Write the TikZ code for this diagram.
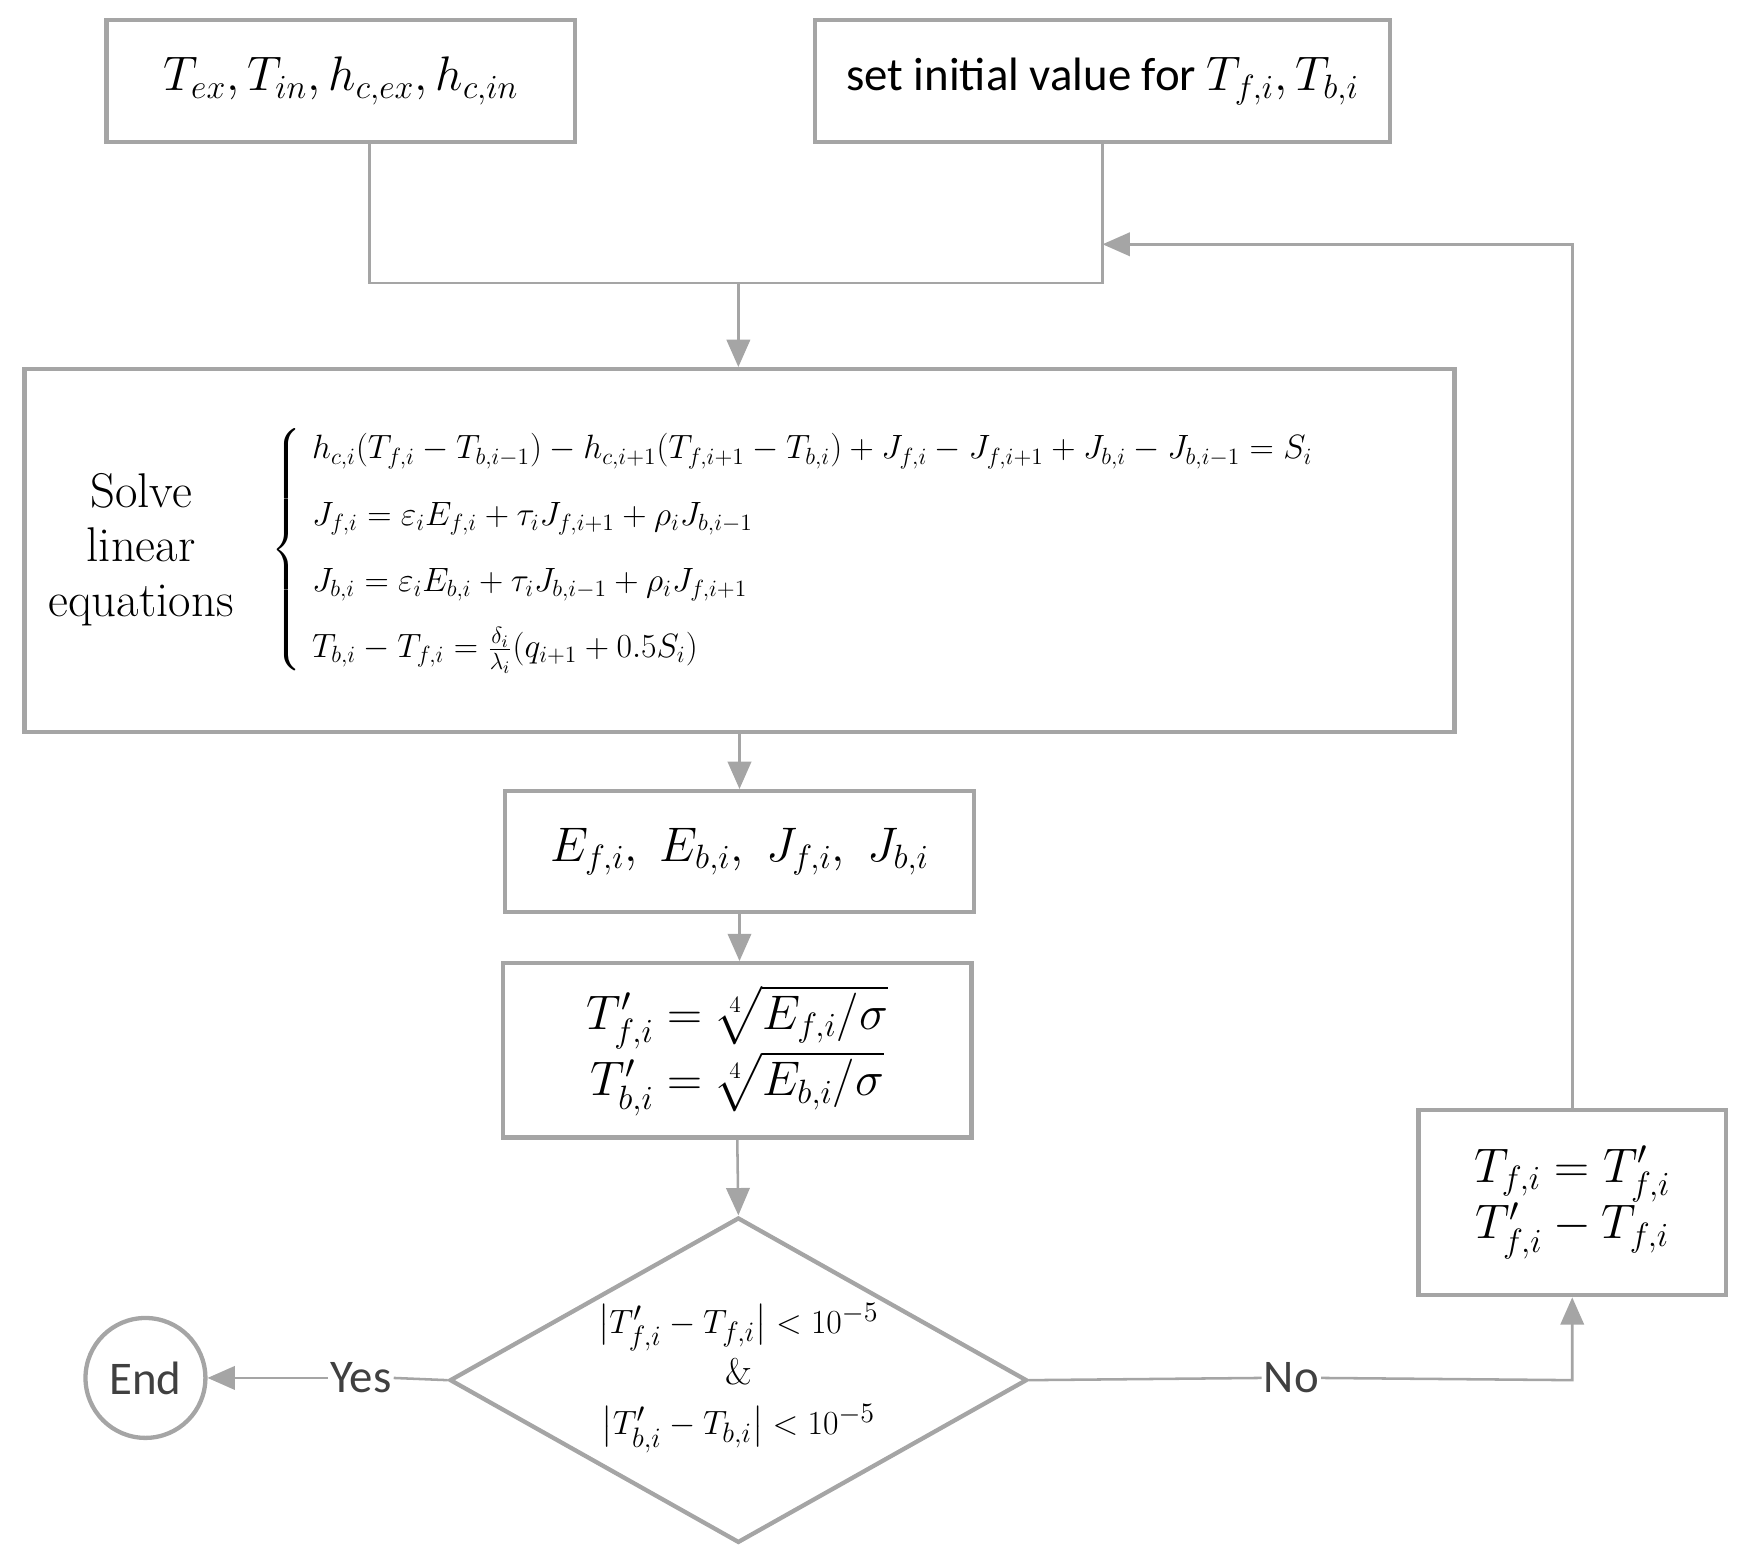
\documentclass[tikz,border=0pt]{standalone}
\usepackage{amsmath}
\usepackage{fontspec}
\newfontfamily\sansf{Carlito}
\usetikzlibrary{shapes.geometric,arrows.meta}
\definecolor{lc}{RGB}{165,165,165}
\begin{document}
\begin{tikzpicture}[x=0.02cm,y=-0.02cm,
  box/.style={draw=lc,line width=2.2pt,inner sep=0pt},
  ln/.style={draw=lc,line width=1.3pt},
  ar/.style={ln,-{Triangle[length=14pt,width=12pt]}},
  big/.style={font=\fontsize{24}{29}\selectfont},
  mid/.style={font=\fontsize{18.5}{24}\selectfont}]
\useasboundingbox (0,0) rectangle (1568,1407);
\node[box,minimum width=422*0.02cm,minimum height=110*0.02cm,big] (b1) at (307,73) {$T_{ex},T_{in},h_{c,ex},h_{c,in}$};
\node[box,minimum width=518*0.02cm,minimum height=110*0.02cm,big] (b2) at (993,73) {\sansf set initial value for $T_{f,i},T_{b,i}$};
\node[box,minimum width=1288*0.02cm,minimum height=327*0.02cm] (eq) at (666,496) {};
\node[font=\fontsize{25}{28}\selectfont,align=center] (sl) at (127,495) {Solve\\linear\\equations};
\node[mid,anchor=west] (sys) at (238,495) {$\left\{\begin{aligned}
\ &h_{c,i}(T_{f,i}-T_{b,i-1})-h_{c,i+1}(T_{f,i+1}-T_{b,i})+J_{f,i}-J_{f,i+1}+J_{b,i}-J_{b,i-1}=S_i\\[7pt]
\ &J_{f,i}=\varepsilon_iE_{f,i}+\tau_iJ_{f,i+1}+\rho_iJ_{b,i-1}\\[7pt]
\ &J_{b,i}=\varepsilon_iE_{b,i}+\tau_iJ_{b,i-1}+\rho_iJ_{f,i+1}\\[7pt]
\ &T_{b,i}-T_{f,i}=\tfrac{\delta_i}{\lambda_i}(q_{i+1}+0.5S_i)
\end{aligned}\right.$};
\node[box,minimum width=422*0.02cm,minimum height=109*0.02cm,big] (be) at (666,767) {$E_{f,i},\ E_{b,i},\ J_{f,i},\ J_{b,i}$};
\node[box,minimum width=422*0.02cm,minimum height=157*0.02cm,big,align=center] (bt) at (664,946) {$T'_{f,i}=\sqrt[4]{E_{f,i}/\sigma}$\\$T'_{b,i}=\sqrt[4]{E_{b,i}/\sigma}$};
\node[diamond,draw=lc,line width=2.2pt,minimum width=520*0.02cm,minimum height=293*0.02cm,inner sep=0pt] (d) at (665,1243) {};
\node[font=\fontsize{19}{26}\selectfont,align=center] (dt) at (665,1241) {$\bigl|T'_{f,i}-T_{f,i}\bigr|<10^{-5}$\\\&\\$\bigl|T'_{b,i}-T_{b,i}\bigr|<10^{-5}$};
\node[circle,draw=lc,line width=2.2pt,minimum size=108*0.02cm,inner sep=0pt,font=\sansf\fontsize{24}{28}\selectfont,text=black!75] (end) at (131,1241) {End};
\node[box,minimum width=277*0.02cm,minimum height=167*0.02cm,big,align=center] (br) at (1416,1083) {$T_{f,i}=T'_{f,i}$\\$T'_{f,i}-T_{f,i}$};
\node[font=\sansf\fontsize{24}{28}\selectfont,text=black!75,inner sep=1pt] (yes) at (325,1241) {Yes};
\node[font=\sansf\fontsize{24}{28}\selectfont,text=black!75,inner sep=1pt] (no) at (1163,1241) {No};
\coordinate (j1) at (333,255); \coordinate (j2) at (993,255); \coordinate (jm) at (665,255);
\coordinate (fb) at (993,220); \coordinate (c1) at (1416,220); \coordinate (c2) at (1416,1243);
\draw[ln] (b1.south -| j1) -- (j1) -- (j2) -- (b2.south);
\draw[ar] (jm) -- (eq.north -| jm);
\draw[ar] (eq.south -| be.north) -- (be.north);
\draw[ar] (be.south) -- (be.south |- bt.north);
\draw[ar] (bt.south) -- (d.north);
\draw[ln] (d.west) -- (yes.east);
\draw[ar] (yes.west) -- (end.east);
\draw[ln] (d.east) -- (no.west);
\draw[ar] (no.east) -- (c2) -- (br.south);
\draw[ar] (br.north) -- (c1) -- (fb);
\end{tikzpicture}
\end{document}
